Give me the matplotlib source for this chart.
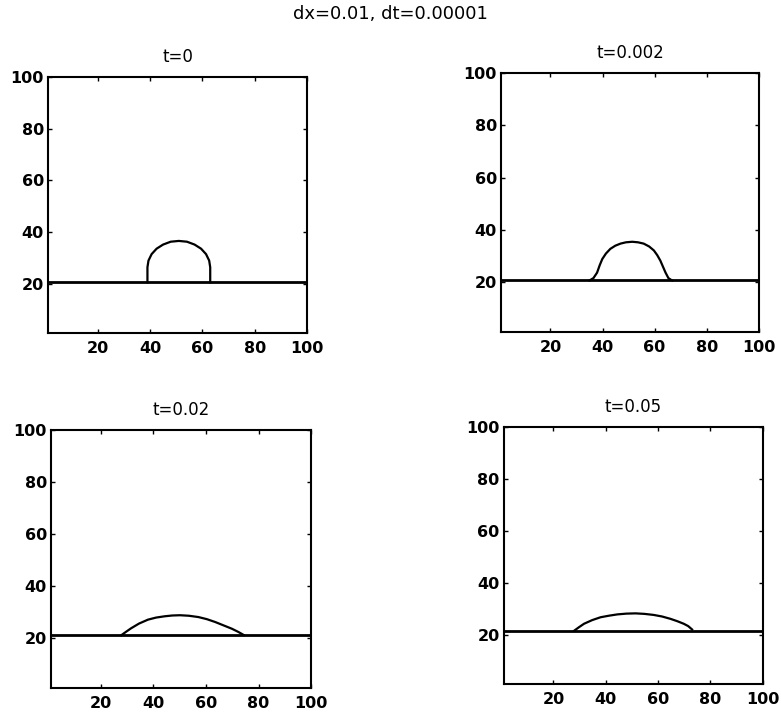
import numpy as np
import matplotlib
matplotlib.use('Agg')
import matplotlib.pyplot as plt

# panel titles and film level (substrate line) for each snapshot
titles = ['t=0', 't=0.002', 't=0.02', 't=0.05']
film_x = [1, 100]
film_level = [20.6, 20.7, 21.2, 21.5]

# droplet profiles
drop_x_t0 = [39.0, 39.0, 39.4, 40.6, 42.5, 45.0, 47.9, 51.0, 54.1, 57.0, 59.5, 61.4, 62.6, 63.0, 63.0]
drop_y_t0 = [20.6, 26.4, 29.0, 31.5, 33.6, 35.2, 36.3, 36.6, 36.3, 35.2, 33.6, 31.5, 29.0, 26.4, 20.6]

drop_x_t1 = [35.0, 36.5, 37.9, 38.9, 39.9, 41.3, 43.0, 44.9, 46.9, 49.0, 51.4,
             53.6, 55.8, 57.9, 59.7, 61.0, 62.2, 63.2, 64.2, 65.3, 66.7]
drop_y_t1 = [20.7, 21.6, 23.7, 26.5, 28.9, 31.0, 32.8, 34.0, 34.8, 35.3, 35.5,
             35.3, 34.8, 33.7, 32.2, 30.4, 28.3, 26.0, 23.7, 21.6, 20.7]

drop_x_t2 = [27.7, 29.5, 31.5, 34.5, 37.9, 41.0, 44.3, 47.2, 50.1, 53.5, 57.1,
             60.3, 63.5, 66.7, 69.9, 72.3, 74.4]
drop_y_t2 = [21.2, 22.5, 23.9, 25.7, 27.2, 28.0, 28.5, 28.8, 28.9, 28.7, 28.2,
             27.4, 26.3, 25.0, 23.7, 22.5, 21.3]

drop_x_t3 = [27.9, 29.8, 31.7, 34.8, 38.0, 41.2, 44.4, 47.9, 51.4, 54.8, 58.3,
             61.5, 64.7, 67.3, 69.8, 71.5, 73.0]
drop_y_t3 = [21.5, 22.9, 24.2, 25.6, 26.7, 27.3, 27.8, 28.1, 28.2, 28.0, 27.6,
             27.0, 26.1, 25.2, 24.2, 23.3, 22.0]

drops = [(drop_x_t0, drop_y_t0), (drop_x_t1, drop_y_t1),
         (drop_x_t2, drop_y_t2), (drop_x_t3, drop_y_t3)]
ticks = [20, 40, 60, 80, 100]

# axes boxes in figure fractions (left, bottom, width, height)
boxes = [(0.0615, 0.5343, 0.3316, 0.358),
         (0.6415, 0.5357, 0.330, 0.362),
         (0.0653, 0.0378, 0.333, 0.361),
         (0.645, 0.0434, 0.3316, 0.3594)]

plt.rcParams['font.family'] = ['DejaVu Sans']

fig = plt.figure(figsize=(7.81, 7.15), dpi=100)
fig.suptitle('dx=0.01, dt=0.00001', y=0.980, va='center', fontsize=13)

for box, title, (dx, dy), lev in zip(boxes, titles, drops, film_level):
    ax = fig.add_axes(box)
    ax.plot(film_x, [lev, lev], color='black', lw=2.0, solid_capstyle='butt')
    ax.plot(dx, dy, color='black', lw=1.6)
    ax.set_xlim(1, 100)
    ax.set_ylim(1, 100)
    ax.set_xticks(ticks)
    ax.set_yticks(ticks)
    ax.tick_params(direction='in', length=3, width=1, top=True, right=True,
                   labelsize=11.5)
    ax.tick_params(axis='x', pad=6)
    ax.tick_params(axis='y', pad=3)
    for lab in ax.get_xticklabels() + ax.get_yticklabels():
        lab.set_fontweight('bold')
    for sp in ax.spines.values():
        sp.set_linewidth(1.5)
    ax.set_title(title, fontsize=12, pad=11)

fig.savefig('out.png', dpi=100)
